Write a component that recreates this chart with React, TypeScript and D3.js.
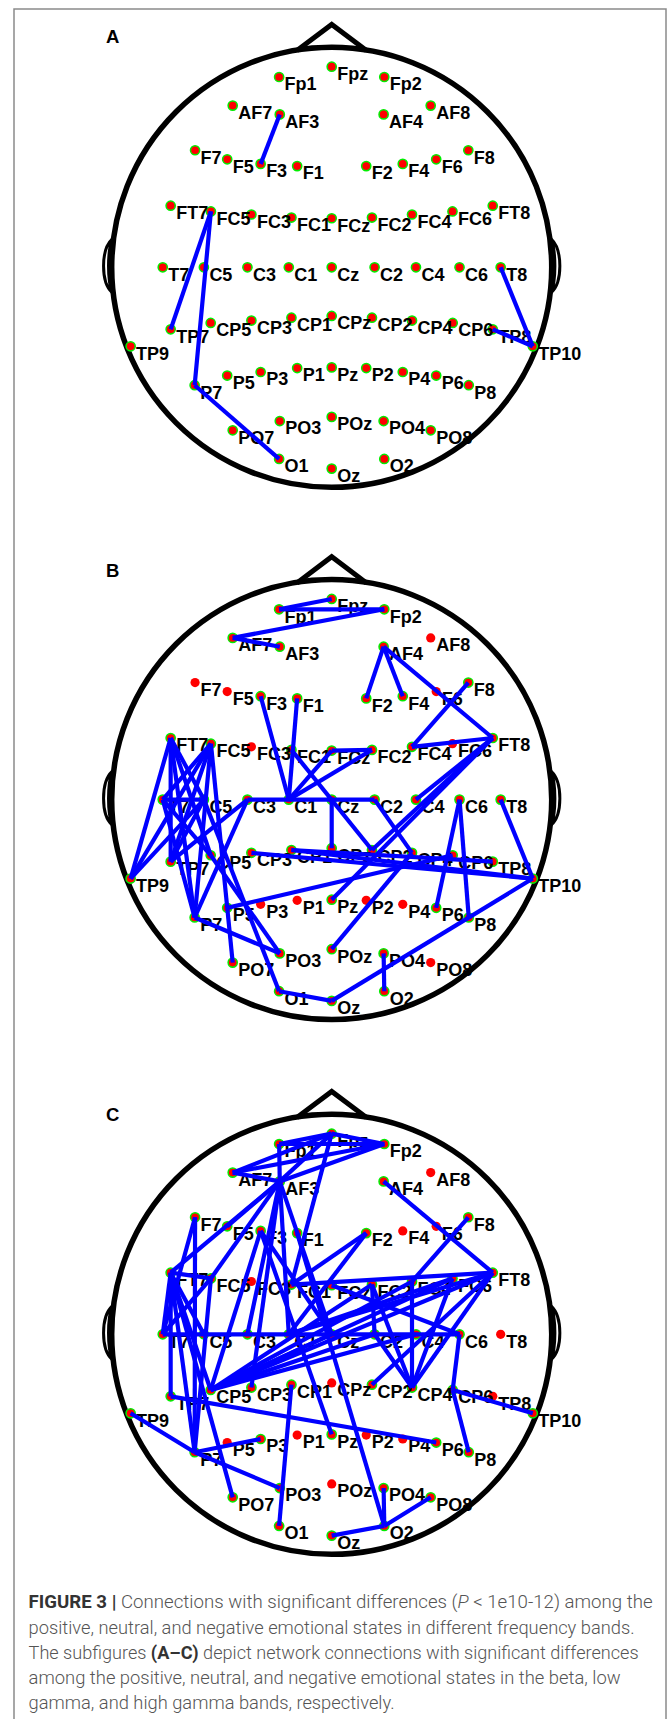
import React from "react";
import * as d3 from "d3";

// ---- electrode layout (head units: radius 1, x to the right, y toward the nose) ----
const electrodeNames = [
  "Fp1", "Fpz", "Fp2",
  "AF7", "AF3", "AF4", "AF8",
  "F7", "F5", "F3", "F1", "F2", "F4", "F6", "F8",
  "FT7", "FC5", "FC3", "FC1", "FCz", "FC2", "FC4", "FC6", "FT8",
  "T7", "C5", "C3", "C1", "Cz", "C2", "C4", "C6", "T8",
  "TP9",
  "TP7", "CP5", "CP3", "CP1", "CPz", "CP2", "CP4", "CP6", "TP8",
  "TP10",
  "P7", "P5", "P3", "P1", "Pz", "P2", "P4", "P6", "P8",
  "PO7", "PO3", "POz", "PO4", "PO8",
  "O1", "Oz", "O2",
];

const electrodeX = [
  -0.239, 0, 0.239,
  -0.45, -0.236, 0.236, 0.45,
  -0.621, -0.475, -0.323, -0.157, 0.157, 0.323, 0.475, 0.621,
  -0.732, -0.549, -0.365, -0.183, 0, 0.183, 0.365, 0.549, 0.732,
  -0.768, -0.581, -0.383, -0.195, 0, 0.195, 0.383, 0.581, 0.768,
  -0.914,
  -0.732, -0.55, -0.365, -0.183, 0, 0.183, 0.365, 0.55, 0.732,
  0.914,
  -0.623, -0.475, -0.323, -0.157, 0, 0.157, 0.323, 0.475, 0.623,
  -0.45, -0.236, 0, 0.236, 0.45,
  -0.239, 0, 0.239,
];

const electrodeY = [
  0.865, 0.912, 0.865,
  0.735, 0.695, 0.695, 0.735,
  0.532, 0.491, 0.47, 0.46, 0.46, 0.47, 0.491, 0.532,
  0.28, 0.254, 0.24, 0.226, 0.223, 0.226, 0.24, 0.254, 0.28,
  0, 0, 0, 0, 0, 0, 0, 0, 0,
  -0.359,
  -0.282, -0.253, -0.242, -0.229, -0.221, -0.229, -0.242, -0.253, -0.282,
  -0.359,
  -0.536, -0.492, -0.476, -0.458, -0.455, -0.458, -0.476, -0.492, -0.536,
  -0.741, -0.699, -0.68, -0.699, -0.741,
  -0.871, -0.915, -0.871,
];

// ---- significant connections per band ----
const betaEdges = [
  ["AF3", "F3"], ["FC5", "TP7"], ["FC5", "P7"], ["P7", "O1"],
  ["T8", "TP10"], ["TP8", "TP10"],
];

const lowGammaEdges = [
  ["Fp1", "Fpz"], ["Fp1", "Fp2"], ["AF7", "Fp2"], ["AF7", "AF3"],
  ["AF4", "F2"], ["AF4", "F4"], ["AF4", "FT8"], ["F8", "FC4"], ["FC4", "FT8"],
  ["F3", "C1"], ["F1", "C1"], ["FCz", "FC2"], ["C1", "FCz"], ["C1", "FC2"],
  ["FC1", "CP2"], ["C3", "C2"], ["Cz", "CPz"], ["C2", "CP4"],
  ["FT8", "C4"], ["FT8", "CP2"], ["FT8", "Pz"], ["POz", "CP4"],
  ["CP3", "TP10"], ["CP1", "TP10"], ["CP1", "TP8"], ["P5", "CP6"],
  ["C6", "P6"], ["C6", "P8"], ["T8", "TP10"], ["Oz", "TP10"], ["O1", "Oz"],
  ["PO4", "O2"], ["C5", "O1"], ["P7", "PO3"], ["CP5", "PO3"],
  ["FT7", "TP9"], ["FC5", "TP9"], ["C5", "TP9"], ["FT7", "TP7"], ["FT7", "P7"],
  ["FT7", "CP5"], ["FC5", "T7"], ["FC5", "TP7"], ["FC5", "P7"], ["FC5", "PO7"],
  ["T7", "CP5"], ["T7", "P7"], ["C5", "TP7"], ["C3", "TP7"], ["C3", "P7"],
  ["T7", "C5"], ["FT7", "C5"],
];

const highGammaEdges = [
  ["Fp1", "Fpz"], ["Fp1", "Fp2"], ["Fpz", "Fp2"], ["AF7", "Fpz"], ["AF7", "Fp2"],
  ["AF7", "AF3"], ["AF3", "Fpz"], ["AF3", "Fp2"], ["Fp1", "AF3"], ["Fpz", "FC1"],
  ["AF3", "FT7"], ["AF3", "FC5"], ["AF3", "CP3"], ["AF3", "C3"], ["AF3", "C1"],
  ["AF3", "Cz"], ["AF3", "F5"],
  ["F7", "P7"], ["F7", "T7"],
  ["F3", "CP5"], ["F3", "Cz"], ["F3", "Pz"], ["F1", "O2"],
  ["F2", "FC1"], ["F2", "C1"],
  ["AF4", "FT8"], ["F8", "FC4"],
  ["FT8", "FC1"], ["FT8", "C1"], ["FT8", "CP4"], ["FT8", "CP2"], ["FC6", "C1"],
  ["CP4", "FC4"], ["CP4", "FC2"], ["CP4", "C2"], ["CP4", "FC6"], ["FC2", "C2"],
  ["CP5", "Cz"], ["CP5", "C2"], ["CP5", "FC2"], ["CP5", "C4"], ["CP5", "FC4"],
  ["CP5", "FC6"], ["CP5", "FT8"], ["C6", "FCz"],
  ["T7", "C6"], ["C6", "CP6"], ["CP6", "TP10"], ["CP6", "P8"],
  ["TP7", "P6"], ["TP9", "P7"], ["P7", "PO3"], ["P7", "P3"], ["PO7", "FT7"],
  ["O1", "CP1"], ["Oz", "O2"], ["O2", "PO8"], ["PO4", "O2"],
  ["FT7", "FC5"], ["FC5", "T7"], ["FT7", "C5"], ["FT7", "CP5"], ["FT7", "P7"],
  ["FT7", "T7"], ["FT7", "TP7"], ["FC5", "P7"],
];

const panelLetters = ["A", "B", "C"];
const panelEdges = [betaEdges, lowGammaEdges, highGammaEdges];
// panel A draws every electrode with its rim; B and C only rim connected ones
const rimAll = [true, false, false];

// caption: each line is a list of [text, style] segments
const captionLines = [
  [["FIGURE 3 | ", "b"], ["Connections with significant differences (", "n"], ["P", "i"], [" < 1e10-12) among the", "n"]],
  [["positive, neutral, and negative emotional states in different frequency bands.", "n"]],
  [["The subfigures ", "n"], ["(A–C)", "b"], [" depict network connections with significant differences", "n"]],
  [["among the positive, neutral, and negative emotional states in the beta, low", "n"]],
  [["gamma, and high gamma bands, respectively.", "n"]],
];
const captionWidths = [624, 606, 610, 592, 366];

// ---- layout ----
const W = 669;
const H = 1719;
const R = 220;
const CX = 331.7;
const panelCY = [267.3, 799.6, 1334.3];
const letterY = [42.7, 576.7, 1121];

const electrodes = electrodeNames.map((name, i) => ({ name, x: electrodeX[i], y: electrodeY[i] }));
const byName = new Map(electrodes.map((e) => [e.name, e]));

function Head({ index }: { index: number }) {
  const cy = panelCY[index];
  const x = d3.scaleLinear().domain([-1, 1]).range([CX - R, CX + R]);
  const y = d3.scaleLinear().domain([-1, 1]).range([cy + R, cy - R]);
  const edges = panelEdges[index];
  const connected = new Set(edges.flat());

  const nose = d3.line()([
    [x(-0.158), y(0.985)],
    [x(0), y(1.104)],
    [x(0.158), y(0.985)],
  ]);

  const ear = (s: number) => {
    const p = d3.path();
    p.moveTo(x(s * 0.998), y(0.128));
    p.bezierCurveTo(x(s * 1.05), y(0.08), x(s * 1.05), y(-0.07), x(s * 0.998), y(-0.115));
    p.bezierCurveTo(x(s * 1.02), y(-0.06), x(s * 1.02), y(0.07), x(s * 0.998), y(0.128));
    return p.toString();
  };

  return (
    <g>
      <text
        x={106}
        y={letterY[index]}
        fontFamily="Liberation Sans, Arial, sans-serif"
        fontWeight={700}
        fontSize={18.5}
        fill="#000"
      >
        {panelLetters[index]}
      </text>
      <path d={ear(-1)} fill="none" stroke="#000" strokeWidth={3} />
      <path d={ear(1)} fill="none" stroke="#000" strokeWidth={3} />
      <path d={nose || ""} fill="none" stroke="#000" strokeWidth={5} strokeLinejoin="miter" />
      <circle cx={x(0)} cy={y(0)} r={R} fill="none" stroke="#000" strokeWidth={5.5} />
      {electrodes.map((e) => {
        const rim = rimAll[index] || connected.has(e.name);
        return (
          <circle
            key={"m" + e.name}
            cx={x(e.x)}
            cy={y(e.y)}
            r={4.6}
            fill="#ff0000"
            stroke={rim ? "#00ee00" : "none"}
            strokeWidth={1.5}
          />
        );
      })}
      {electrodes.map((e) => (
        <text
          key={"t" + e.name}
          x={x(e.x) + 5.5}
          y={y(e.y) + 13.3}
          fontFamily="Liberation Sans, Arial, sans-serif"
          fontWeight={700}
          fontSize={18}
          fill="#000"
        >
          {e.name}
        </text>
      ))}
      {edges.map(([a, b], i) => {
        const ea = byName.get(a)!;
        const eb = byName.get(b)!;
        return (
          <line
            key={"l" + i}
            x1={x(ea.x)}
            y1={y(ea.y)}
            x2={x(eb.x)}
            y2={y(eb.y)}
            stroke="#0000ff"
            strokeWidth={4.2}
          />
        );
      })}
    </g>
  );
}

export default function App() {
  return (
    <svg
      width={W}
      height={H}
      viewBox={`0 0 ${W} ${H}`}
      style={{ position: "absolute", left: 0, top: 0, background: "#fff" }}
    >
      <rect x={0} y={0} width={W} height={H} fill="#fff" />
      <path d={`M14,${H} V9 H666 V${H}`} fill="none" stroke="#8a8a8a" strokeWidth={1.5} />
      {panelLetters.map((_, i) => (
        <Head key={i} index={i} />
      ))}
      {captionLines.map((segs, i) => (
        <text
          key={"c" + i}
          x={28.6}
          y={1608.3 + i * 25.2}
          textLength={captionWidths[i]}
          lengthAdjust="spacingAndGlyphs"
          fontFamily="Roboto, Liberation Sans, Arial, sans-serif"
          fontWeight={300}
          fontSize={18.5}
          fill="#555"
        >
          {segs.map(([t, s], j) => (
            <tspan
              key={j}
              fontWeight={s === "b" ? 700 : 300}
              fontStyle={s === "i" ? "italic" : "normal"}
              fill={s === "b" ? "#333" : "#555"}
            >
              {t}
            </tspan>
          ))}
        </text>
      ))}
    </svg>
  );
}
